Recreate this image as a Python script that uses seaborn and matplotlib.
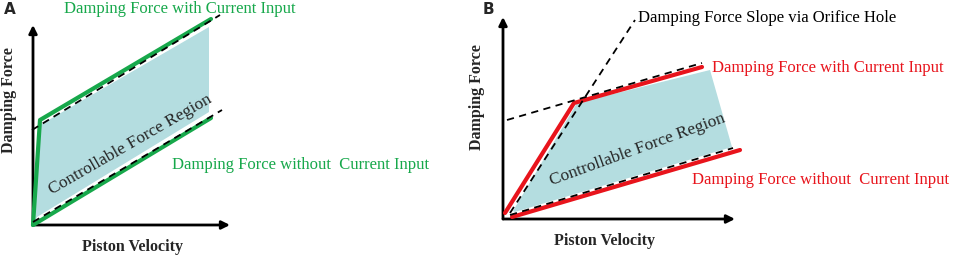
import matplotlib
matplotlib.use("Agg")
import matplotlib.pyplot as plt
import seaborn as sns

sns.set_theme(style="white")
plt.rcParams["font.family"] = ["Liberation Serif", "DejaVu Serif"]

GREEN = "#17a84b"
RED = "#e8141c"
FILL = "#b4dde0"

# ---- Panel A (velocity, force) in sketch units ----
a_upper_v = [0, 7, 178]
a_upper_f = [0, 105, 206]
a_lower_v = [0, 178]
a_lower_f = [0, 107]
a_dash_up_v = [-1, 187]
a_dash_up_f = [95, 210]
a_dash_lo_v = [0, 189]
a_dash_lo_f = [3, 115]
a_fill_v = [2, 7, 176, 176, 4]
a_fill_f = [4, 100, 198, 113, 8]

# ---- Panel B ----
b_upper_v = [2, 71, 199]
b_upper_f = [6, 116, 152]
b_lower_v = [9, 237]
b_lower_f = [2, 69]
b_dash_steep_v = [7, 132]
b_dash_steep_f = [6, 199]
b_dash_up_v = [4, 199]
b_dash_up_f = [99, 156]
b_dash_lo_v = [7, 230]
b_dash_lo_f = [4, 71]
b_fill_v = [10, 74, 207, 229, 12]
b_fill_f = [8, 116, 149, 72, 7]

fig = plt.figure(figsize=(9.57, 2.61), dpi=100)


def setup(ax, x0, y0, w):
    # origin placed at pixel (x0, y0) of the panel, y measured upward
    ax.set_xlim(-x0, w - x0)
    ax.set_ylim(-(261 - y0), y0)
    ax.axis("off")


def axes_arrows(ax, xmax, ymax):
    kw = dict(arrowstyle="-|>", lw=2, color="black", mutation_scale=12,
              shrinkA=0, shrinkB=0)
    ax.annotate("", xy=(0, ymax), xytext=(0, 0), arrowprops=kw)
    ax.annotate("", xy=(xmax, 0), xytext=(0, 0), arrowprops=kw)


# Panel A
axA = fig.add_axes([0, 0, 480 / 957, 1])
setup(axA, 33, 225, 480)
axA.fill(a_fill_v, a_fill_f, color=FILL, lw=0, zorder=1)
axes_arrows(axA, 197, 200)
sns.lineplot(x=a_dash_up_v, y=a_dash_up_f, ax=axA, color="black", lw=1.3,
             linestyle=(0, (4, 3)), zorder=4, sort=False)
sns.lineplot(x=a_dash_lo_v, y=a_dash_lo_f, ax=axA, color="black", lw=1.3,
             linestyle=(0, (4, 3)), zorder=4, sort=False)
sns.lineplot(x=a_upper_v, y=a_upper_f, ax=axA, color=GREEN, lw=3, zorder=3, sort=False)
sns.lineplot(x=a_lower_v, y=a_lower_f, ax=axA, color=GREEN, lw=3, zorder=3, sort=False)
axA.text(31, 216, "Damping Force with Current Input", color=GREEN, fontsize=12,
         va="center", ha="left", zorder=6)
axA.text(139, 60, "Damping Force without  Current Input", color=GREEN, fontsize=12,
         va="center", ha="left")
axA.text(97, 80, "Controllable Force Region", fontsize=12.5, rotation=30,
         rotation_mode="anchor", ha="center", va="center", zorder=5)
axA.text(-24, 125, "Damping Force", fontsize=11.5, fontweight="bold",
         rotation=90, ha="center", va="center")
axA.text(100, -22, "Piston Velocity", fontsize=11.5, fontweight="bold",
         ha="center", va="center")
axA.text(-29, 215, "A", fontsize=11, fontweight="bold", family="DejaVu Sans",
         ha="left", va="center")

# Panel B
axB = fig.add_axes([480 / 957, 0, 477 / 957, 1])
setup(axB, 23, 219, 477)
axB.fill(b_fill_v, b_fill_f, color=FILL, lw=0, zorder=1)
axes_arrows(axB, 232, 202)
for xs, ys in [(b_dash_steep_v, b_dash_steep_f), (b_dash_up_v, b_dash_up_f),
               (b_dash_lo_v, b_dash_lo_f)]:
    sns.lineplot(x=xs, y=ys, ax=axB, color="black", lw=1.3,
                 linestyle=(0, (4, 3)), zorder=4, sort=False)
sns.lineplot(x=b_upper_v, y=b_upper_f, ax=axB, color=RED, lw=3, zorder=3, sort=False)
sns.lineplot(x=b_lower_v, y=b_lower_f, ax=axB, color=RED, lw=3, zorder=3, sort=False)
axB.text(135, 201, "Damping Force Slope via Orifice Hole", color="black",
         fontsize=12, va="center", ha="left")
axB.text(209, 151, "Damping Force with Current Input", color=RED, fontsize=12,
         va="center", ha="left")
axB.text(189, 39, "Damping Force without  Current Input", color=RED, fontsize=12,
         va="center", ha="left")
axB.text(134, 69, "Controllable Force Region", fontsize=12.5, rotation=20,
         rotation_mode="anchor", ha="center", va="center", zorder=5)
axB.text(-26, 122, "Damping Force", fontsize=11.5, fontweight="bold",
         rotation=90, ha="center", va="center")
axB.text(102, -22, "Piston Velocity", fontsize=11.5, fontweight="bold",
         ha="center", va="center")
axB.text(-20, 209, "B", fontsize=11, fontweight="bold", family="DejaVu Sans",
         ha="left", va="center")

fig.savefig("out.png", dpi=100)
